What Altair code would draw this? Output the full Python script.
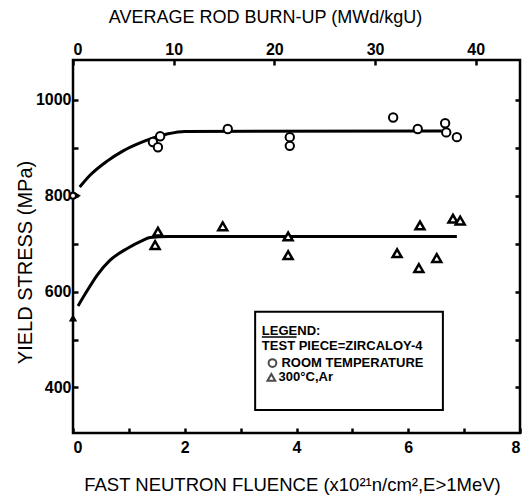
import altair as alt
import pandas as pd

# Room temperature (circles)
rt_x = [1.43, 1.56, 1.52, 2.77, 3.88, 3.88, 5.73, 6.17, 6.66, 6.68, 6.87]
rt_y = [912, 924, 901, 939, 922, 904, 963, 939, 951, 932, 922]
# 300 C, Ar (triangles)
tr_x = [1.52, 1.47, 2.68, 3.85, 3.85, 5.80, 6.21, 6.19, 6.51, 6.80, 6.93]
tr_y = [725, 697, 736, 715, 676, 680, 738, 649, 670, 752, 748]
# unirradiated values (markers at zero fluence)
z_open_x = [0.0]
z_open_y = [800]
z_right_x = [0.09]
z_right_y = [800]
z_up_x = [0.0]
z_up_y = [545]
# fitted curves
up_x = [0.12, 0.30, 0.61, 0.89, 1.20, 1.45, 1.70, 2.00, 6.60]
up_y = [818, 842, 872, 893, 910, 921, 929, 934, 935]
lo_x = [0.09, 0.25, 0.43, 0.66, 0.97, 1.25, 1.38, 1.70, 6.87]
lo_y = [570, 601, 634, 665, 690, 707, 713, 715, 715]

x_ticks = [0, 1, 2, 3, 4, 5, 6, 7, 8]
y_ticks = [400, 500, 600, 700, 800, 900, 1000]
top_ticks = [0, 10, 20, 30, 40]

XDOM = [0, 8]
YDOM = [305, 1083]
TOPDOM = [0, 44.4]

FONT = "Liberation Sans, Arial, sans-serif"

xs = alt.Scale(domain=XDOM, nice=False, zero=False)
ys = alt.Scale(domain=YDOM, nice=False, zero=False)

common = dict(tickSize=5, tickWidth=2.5, domain=False, grid=False, offset=-5,
              labelFont=FONT, labelFontWeight="bold", labelFontSize=16,
              titleFont=FONT, titleFontWeight="normal",
              labelColor="black", tickColor="black", titleColor="black",
              titleBaseline="middle", titleAlign="center")

x_axis = alt.Axis(values=x_ticks, labelExpr="datum.value % 2 == 0 ? datum.label : ''",
                  title="FAST NEUTRON FLUENCE (x10²¹n/cm²,E>1MeV)", titleFontSize=18.5,
                  labelPadding=6, titleX=219, titleY=56, **common)
y_axis = alt.Axis(values=y_ticks, format="d", labelExpr="datum.value % 200 == 0 ? datum.label : ''",
                  title="YIELD STRESS (MPa)", titleFontSize=20, titleAngle=-90,
                  labelPadding=2, titleX=-53, titleY=202, **common)

X = alt.X("x:Q", scale=xs, axis=x_axis)
Y = alt.Y("y:Q", scale=ys, axis=y_axis)

up_line = alt.Chart(pd.DataFrame({"x": up_x, "y": up_y})).mark_line(
    interpolate="monotone", color="black", strokeWidth=3).encode(x=X, y=Y)
lo_line = alt.Chart(pd.DataFrame({"x": lo_x, "y": lo_y})).mark_line(
    interpolate="monotone", color="black", strokeWidth=3).encode(x=X, y=Y)
circles = alt.Chart(pd.DataFrame({"x": rt_x, "y": rt_y})).mark_point(
    shape="circle", filled=False, fill="white", fillOpacity=1,
    color="black", strokeWidth=2, size=70).encode(x=X, y=Y)
tris = alt.Chart(pd.DataFrame({"x": tr_x, "y": tr_y})).mark_point(
    shape="triangle-up", filled=False, fill="white", fillOpacity=1,
    color="black", strokeWidth=2.5, size=80).encode(x=X, y=Y)
z_open = alt.Chart(pd.DataFrame({"x": z_open_x, "y": z_open_y})).mark_point(
    shape="circle", filled=False, fill="white", fillOpacity=1, color="black",
    strokeWidth=2, size=35, clip=False).encode(x=X, y=Y)
z_right = alt.Chart(pd.DataFrame({"x": z_right_x, "y": z_right_y})).mark_point(
    shape="triangle-right", filled=True, color="black", opacity=1, size=45, clip=False).encode(x=X, y=Y)
z_up = alt.Chart(pd.DataFrame({"x": z_up_x, "y": z_up_y})).mark_point(
    shape="triangle-up", filled=True, color="black", opacity=1, size=70, clip=False).encode(x=X, y=Y)

# legend box (in data coordinates)
leg_box_x = [3.26]
leg_box_x2 = [6.62]
leg_box_y = [353]
leg_box_y2 = [558]
box = alt.Chart(pd.DataFrame({"x": leg_box_x, "x2": leg_box_x2, "y": leg_box_y, "y2": leg_box_y2})).mark_rect(
    fill="white", stroke="black", strokeWidth=2).encode(x=X, x2="x2:Q", y=Y, y2="y2:Q")

leg_text = ["LEGEND:", "TEST PIECE=ZIRCALOY-4", "ROOM TEMPERATURE", "300°C,Ar"]
leg_tx = [3.38, 3.38, 3.73, 3.68]
leg_ty = [518, 487, 451, 421]
ltext = alt.Chart(pd.DataFrame({"x": leg_tx, "y": leg_ty, "t": leg_text})).mark_text(
    align="left", baseline="middle", font=FONT, fontSize=13, fontWeight="bold",
    color="black").encode(x=X, y=Y, text="t:N")
uline = alt.Chart(pd.DataFrame({"x": [3.38], "x2": [4.0], "y": [505]})).mark_rule(
    color="black", strokeWidth=1.5).encode(x=X, x2="x2:Q", y=Y)

leg_sym_x = [3.57, 3.55]
leg_sym_y = [451, 421]
leg_sym_s = ["circle", "triangle-up"]
lsym = alt.Chart(pd.DataFrame({"x": leg_sym_x, "y": leg_sym_y, "s": leg_sym_s})).mark_point(
    filled=False, color="black", strokeWidth=2, size=60).encode(
    x=X, y=Y, shape=alt.Shape("s:N", scale=None))

main = alt.layer(up_line, lo_line, circles, tris, z_open, z_right, z_up, box, uline, ltext, lsym)

# top axis: average rod burn-up
top = alt.Chart(pd.DataFrame({"b": top_ticks})).mark_point(opacity=0).encode(
    x=alt.X("b:Q", scale=alt.Scale(domain=TOPDOM, nice=False, zero=False),
            axis=alt.Axis(orient="top", values=top_ticks, title="AVERAGE ROD BURN-UP (MWd/kgU)",
                          titleFontSize=18, labelPadding=3, titleX=192, titleY=-48, **common)))

# right axis: ticks only
right = alt.Chart(pd.DataFrame({"r": y_ticks})).mark_point(opacity=0).encode(
    y=alt.Y("r:Q", scale=alt.Scale(domain=YDOM, nice=False, zero=False),
            axis=alt.Axis(orient="right", values=y_ticks, labels=False, title=None,
                          offset=-5, tickSize=5, tickWidth=2.5, domain=False, grid=False,
                          tickColor="black")))

chart = alt.layer(main, top, right).resolve_scale(x="independent", y="independent").properties(
    width=447, height=373, padding={"left": 65, "top": 52, "right": 3, "bottom": 66},
    autosize=alt.AutoSizeParams(type="none"), background="white"
).configure_view(stroke="black", strokeWidth=2.5)

chart.save("out.html", embed_options={"renderer": "svg", "actions": False})
